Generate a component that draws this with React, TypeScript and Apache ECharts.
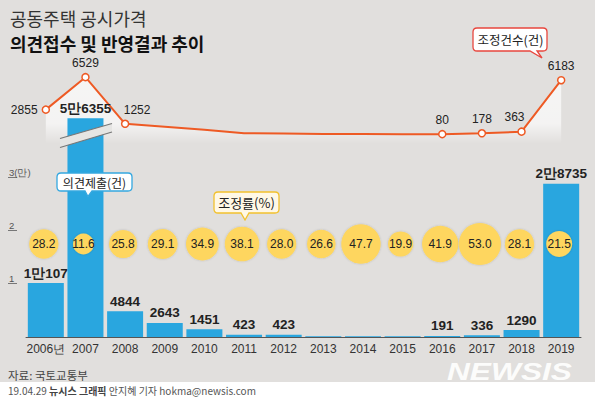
import React, { useEffect, useRef } from 'react';
import * as echarts from 'echarts';

// ---------- data ----------
const YEARS = ['2006', '2007', '2008', '2009', '2010', '2011', '2012', '2013', '2014', '2015', '2016', '2017', '2018', '2019'];
const YEAR_LABELS = ['2006년', '2007', '2008', '2009', '2010', '2011', '2012', '2013', '2014', '2015', '2016', '2017', '2018', '2019'];
// 의견제출(건)
const OPINIONS = [10107, 56355, 4844, 2643, 1451, 423, 423, 150, 150, 150, 191, 336, 1290, 28735];
const UNLABELED_BAR_YEARS = ['2013', '2014', '2015'];
// 조정건수(건)
const ADJUSTED = [2855, 6529, 1252, 930, 590, 190, 150, 110, 90, 70, 80, 178, 363, 6183];
const UNMARKED_LINE_YEARS = ['2009', '2010', '2011', '2012', '2013', '2014', '2015'];
// 조정률(%)
const RATES = [28.2, 11.6, 25.8, 29.1, 34.9, 38.1, 28.0, 26.6, 47.7, 19.9, 41.9, 53.0, 28.1, 21.5];
// y-axis ticks (만)
const Y_TICKS = [10000, 20000, 30000];
const Y_TICK_LABELS = ['1', '2', '3(만)'];
const BAR_BREAK_CAP = 41000;

const TITLE_1 = '공동주택 공시가격';
const TITLE_2 = '의견접수 및 반영결과 추이';
const SOURCE = '자료: 국토교통부';

// ---------- styles ----------
const NUM_FONT = "'Liberation Sans', Arial, sans-serif";
const KR_FONT = "'Noto Sans CJK KR', 'Noto Sans', sans-serif";
const BG = '#E1DFDD';
const BAR_COLOR = '#29A6DF';
const LINE_COLOR = '#EE5A24';
const BUBBLE_COLOR = '#FED65E';

const LINE_LABEL_STYLE: Record<string, any> = {
  '2006': { position: 'left', distance: 4 },
  '2008': { position: 'top', offset: [12, 0] },
  '2018': { position: 'top', offset: [-7, 0] },
};

function fmtMan(v: number): string {
  return v >= 10000 ? `${Math.floor(v / 10000)}만${v % 10000}` : String(v);
}

function calloutD(w: number, h: number, r: number, pL: number, pR: number, tipX: number, tipY: number): string {
  return `M${r},0 H${w - r} Q${w},0 ${w},${r} V${h - r} Q${w},${h} ${w - r},${h} H${pR} L${tipX},${tipY} L${pL},${h} H${r} Q0,${h} 0,${h - r} V${r} Q0,0 ${r},0 Z`;
}

echarts.graphic.registerShape('calloutA', echarts.graphic.extendPath(calloutD(75, 18, 4, 28, 35, 31, 23.5), {}));
echarts.graphic.registerShape('calloutB', echarts.graphic.extendPath(calloutD(65, 21, 4, 27, 35, 31, 28), {}));
echarts.graphic.registerShape('calloutC', echarts.graphic.extendPath(calloutD(74, 23, 4, 57, 64, 69, 30), {}));

export default function App() {
  const ref = useRef<HTMLDivElement>(null);

  useEffect(() => {
    if (!ref.current) return;
    const chart = echarts.init(ref.current, undefined, { renderer: 'svg' });

    const option: any = {
      animation: false,
      backgroundColor: BG,
      grid: [
        { left: 26, right: 14, top: 177, height: 160 },
        { left: 26, right: 14, top: 73, height: 70.7 },
        { left: 24, right: 16, top: 224, height: 40 },
      ],
      xAxis: [
        {
          type: 'category',
          gridIndex: 0,
          data: YEARS,
          axisLine: { lineStyle: { color: '#555', width: 1 } },
          axisTick: { show: false },
          axisLabel: {
            interval: 0,
            formatter: (_v: string, i: number) => YEAR_LABELS[i],
            color: '#333',
            fontSize: 12,
            fontFamily: NUM_FONT,
            margin: 6,
          },
        },
        { type: 'category', gridIndex: 1, data: YEARS, show: false },
        { type: 'category', gridIndex: 2, data: YEARS, show: false },
      ],
      yAxis: [
        {
          type: 'value',
          gridIndex: 0,
          min: 0,
          max: 30000,
          interval: 10000,
          offset: 9,
          axisLine: { show: false },
          splitLine: { show: false },
          axisTick: { show: true, length: 9, lineStyle: { color: '#777' }, customValues: Y_TICKS },
          axisLabel: {
            customValues: Y_TICKS,
            formatter: (v: number) => {
              const i = Y_TICKS.indexOf(v);
              return i >= 0 ? Y_TICK_LABELS[i] : '';
            },
            align: 'left',
            verticalAlign: 'bottom',
            margin: 8,
            color: '#555',
            fontSize: 9.5,
            fontFamily: NUM_FONT,
          },
        },
        { type: 'value', gridIndex: 1, min: -1000, max: 7000, show: false },
        { type: 'category', gridIndex: 2, data: ['rate'], show: false },
      ],
      series: [
        {
          type: 'bar',
          xAxisIndex: 0,
          yAxisIndex: 0,
          z: 2,
          clip: false,
          barWidth: 36,
          itemStyle: { color: BAR_COLOR },
          data: OPINIONS.map((v, i) => ({
            value: Math.min(v, BAR_BREAK_CAP),
            label: { show: !UNLABELED_BAR_YEARS.includes(YEARS[i]) },
          })),
          label: {
            show: true,
            position: 'top',
            distance: 3,
            formatter: (p: any) => fmtMan(OPINIONS[p.dataIndex]),
            fontFamily: NUM_FONT,
            fontSize: 13.5,
            fontWeight: 'bold',
            color: '#222',
          },
        },
        {
          type: 'line',
          xAxisIndex: 1,
          yAxisIndex: 1,
          z: 1,
          symbol: 'circle',
          symbolSize: 7,
          lineStyle: { color: LINE_COLOR, width: 2 },
          itemStyle: { color: '#fff', borderColor: LINE_COLOR, borderWidth: 1.5 },
          areaStyle: {
            origin: 'start',
            color: new echarts.graphic.LinearGradient(0, 0, 0, 1, [
              { offset: 0, color: 'rgba(255,255,255,1)' },
              { offset: 0.7, color: 'rgba(255,255,255,0.9)' },
              { offset: 1, color: 'rgba(255,255,255,0)' },
            ]),
          },
          data: ADJUSTED.map((v, i) => {
            const y = YEARS[i];
            const hidden = UNMARKED_LINE_YEARS.includes(y);
            return {
              value: v,
              symbol: hidden ? 'none' : 'circle',
              label: hidden ? { show: false } : { show: true, position: 'top', distance: 4, ...(LINE_LABEL_STYLE[y] || {}) },
            };
          }),
          label: {
            show: true,
            formatter: (p: any) => String(ADJUSTED[p.dataIndex]),
            fontFamily: NUM_FONT,
            fontSize: 12,
            color: '#222',
          },
        },
        {
          type: 'scatter',
          xAxisIndex: 2,
          yAxisIndex: 2,
          z: 3,
          data: RATES.map((v, i) => [YEARS[i], 'rate', v]),
          symbolSize: (val: any) => 15 + 0.51 * val[2],
          itemStyle: { color: BUBBLE_COLOR, opacity: 1, shadowBlur: 2, shadowColor: 'rgba(0,0,0,0.18)' },
          label: {
            show: true,
            position: 'inside',
            formatter: (p: any) => RATES[p.dataIndex].toFixed(1),
            fontFamily: NUM_FONT,
            fontSize: 12,
            color: '#222',
          },
        },
      ],
      graphic: [
        // footer white strip
        { type: 'rect', z: 0, shape: { x: 0, y: 382, width: 595, height: 17 }, style: { fill: '#ffffff' } },
        // titles
        { type: 'text', z: 100, x: 10, y: 18, style: { text: TITLE_1, font: `normal 18px ${KR_FONT}`, fill: '#333', textVerticalAlign: 'middle' } },
        { type: 'text', z: 100, x: 10, y: 43, style: { text: TITLE_2, font: `bold 18px ${KR_FONT}`, fill: '#111', textVerticalAlign: 'middle' } },
        // source / credit
        { type: 'text', z: 100, x: 8, y: 375, style: { text: SOURCE, font: `normal 11.5px ${KR_FONT}`, fill: '#444', textVerticalAlign: 'middle' } },
        {
          type: 'text', z: 100, x: 8, y: 390,
          style: {
            text: '{a|19.04.29 }{b|뉴시스 그래픽}{a| 안지혜 기자 hokma@newsis.com}',
            textVerticalAlign: 'middle',
            rich: {
              a: { fontFamily: KR_FONT, fontSize: 10, fill: '#555' },
              b: { fontFamily: KR_FONT, fontSize: 10, fontWeight: 'bold', fill: '#444' },
            },
          },
        },
        // NEWSIS watermark
        {
          type: 'text', z: 100, x: 447, y: 360, scaleX: 1.32,
          style: { text: 'NEWSIS', font: "italic 900 24px 'Liberation Sans', Arial, sans-serif", fill: 'rgba(255,255,255,0.92)' },
        },
        // bar break on 2007
        { type: 'polygon', z: 50, shape: { points: [[60, 138.5], [112, 123.5], [112, 132], [60, 147.5]] }, style: { fill: '#E6E5E3' } },
        { type: 'line', z: 51, shape: { x1: 60, y1: 138.5, x2: 112, y2: 123.5 }, style: { stroke: '#777', lineWidth: 1.2 } },
        { type: 'line', z: 51, shape: { x1: 60, y1: 147.5, x2: 112, y2: 132 }, style: { stroke: '#777', lineWidth: 1.2 } },
        // callouts
        { type: 'calloutA', z: 100, x: 57, y: 173, style: { fill: '#ffffff', stroke: '#35A8E0', lineWidth: 1.3 } },
        { type: 'text', z: 101, x: 94.5, y: 182, style: { text: '의견제출(건)', font: `normal 12px ${KR_FONT}`, fill: '#222', textAlign: 'center', textVerticalAlign: 'middle' } },
        { type: 'calloutB', z: 100, x: 214, y: 192, style: { fill: '#FFF8E6', stroke: '#F2C12E', lineWidth: 1.3 } },
        { type: 'text', z: 101, x: 246.5, y: 202.5, style: { text: '조정률(%)', font: `normal 13px ${KR_FONT}`, fill: '#222', textAlign: 'center', textVerticalAlign: 'middle' } },
        { type: 'calloutC', z: 100, x: 473, y: 28, style: { fill: '#ffffff', stroke: '#E8473E', lineWidth: 1.3 } },
        { type: 'text', z: 101, x: 510.5, y: 39.5, style: { text: '조정건수(건)', font: `normal 12.5px ${KR_FONT}`, fill: '#222', textAlign: 'center', textVerticalAlign: 'middle' } },
      ],
    };

    chart.setOption(option);
    return () => chart.dispose();
  }, []);

  return <div ref={ref} style={{ position: 'absolute', left: 0, top: 0, width: 595, height: 399 }} />;
}
